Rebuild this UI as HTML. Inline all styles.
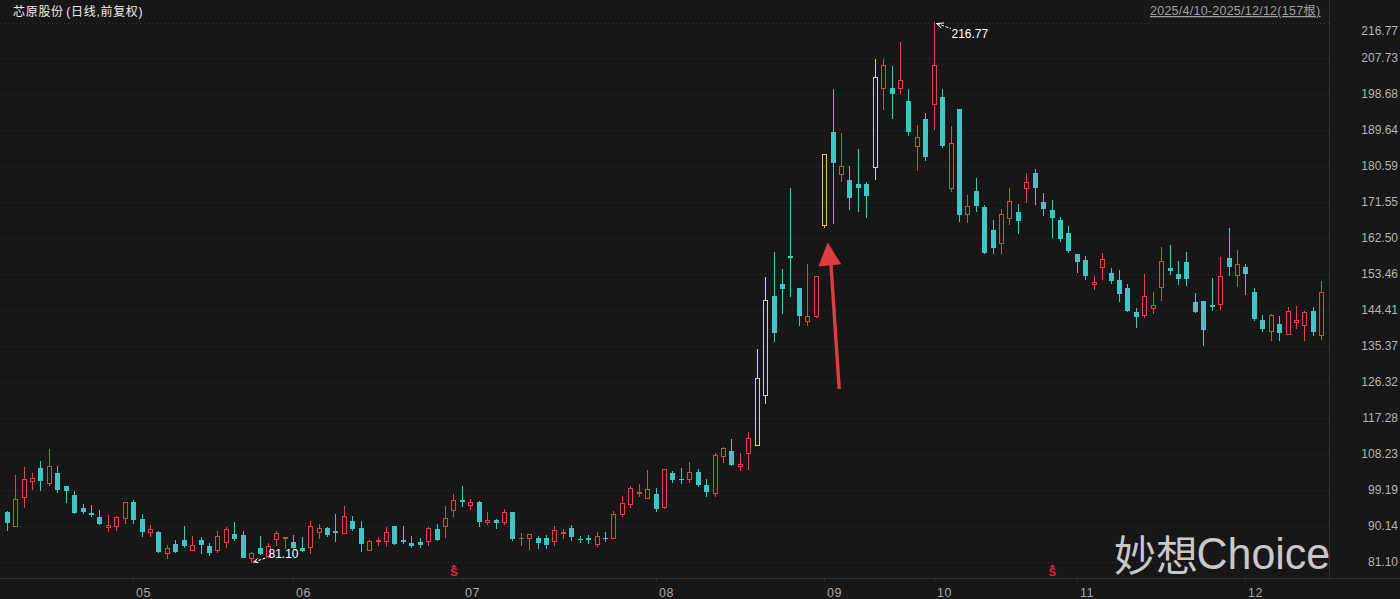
<!DOCTYPE html>
<html lang="zh-CN"><head><meta charset="utf-8"><title>芯原股份 日线</title>
<style>
html,body{margin:0;padding:0;background:#171717;width:1400px;height:599px;overflow:hidden}
svg{display:block}
.t{font-family:"Liberation Sans","Noto Sans CJK SC",sans-serif}
</style></head><body>
<svg width="1400" height="599" viewBox="0 0 1400 599">
<rect x="0" y="0" width="1400" height="599" fill="#171717"/>
<g stroke="#343434" stroke-width="1" stroke-dasharray="1 3" shape-rendering="crispEdges">
<line x1="0" y1="23.5" x2="1332" y2="23.5"/>
<line x1="0" y1="58.5" x2="1332" y2="58.5"/>
<line x1="0" y1="94.5" x2="1332" y2="94.5"/>
<line x1="0" y1="130.5" x2="1332" y2="130.5"/>
<line x1="0" y1="166.5" x2="1332" y2="166.5"/>
<line x1="0" y1="202.5" x2="1332" y2="202.5"/>
<line x1="0" y1="238.5" x2="1332" y2="238.5"/>
<line x1="0" y1="274.5" x2="1332" y2="274.5"/>
<line x1="0" y1="310.5" x2="1332" y2="310.5"/>
<line x1="0" y1="346.5" x2="1332" y2="346.5"/>
<line x1="0" y1="382.5" x2="1332" y2="382.5"/>
<line x1="0" y1="418.5" x2="1332" y2="418.5"/>
<line x1="0" y1="454.5" x2="1332" y2="454.5"/>
<line x1="0" y1="490.5" x2="1332" y2="490.5"/>
<line x1="0" y1="526.5" x2="1332" y2="526.5"/>
<line x1="0" y1="562.5" x2="1332" y2="562.5"/>
</g>
<g shape-rendering="crispEdges">
<line x1="1329.5" y1="0" x2="1329.5" y2="578" stroke="#2e2e2e" stroke-width="1"/>
<line x1="0" y1="578.5" x2="1400" y2="578.5" stroke="#2e2e2e" stroke-width="1"/>
</g>
<g shape-rendering="crispEdges">
<rect x="7" y="511" width="1" height="1" fill="#40c4c4"/>
<rect x="7" y="523" width="1" height="8" fill="#40c4c4"/>
<rect x="5" y="512" width="5" height="11" fill="#40c4c4"/>
<rect x="15" y="475" width="1" height="24" fill="#e8404a"/>
<rect x="13.5" y="499.5" width="4" height="27" fill="none" stroke="#e8404a" stroke-width="1"/>
<rect x="24" y="467" width="1" height="12" fill="#e8404a"/>
<rect x="24" y="498" width="1" height="10" fill="#e8404a"/>
<rect x="22.5" y="479.5" width="4" height="18" fill="none" stroke="#e8404a" stroke-width="1"/>
<rect x="32" y="473" width="1" height="5" fill="#e8404a"/>
<rect x="32" y="482" width="1" height="8" fill="#e8404a"/>
<rect x="30.5" y="478.5" width="4" height="3" fill="none" stroke="#e8404a" stroke-width="1"/>
<rect x="40" y="461" width="1" height="7" fill="#40c4c4"/>
<rect x="40" y="481" width="1" height="10" fill="#40c4c4"/>
<rect x="38" y="468" width="5" height="13" fill="#40c4c4"/>
<rect x="49" y="449" width="1" height="17" fill="#e8404a"/>
<rect x="49" y="484" width="1" height="2" fill="#e8404a"/>
<rect x="47.5" y="466.5" width="4" height="17" fill="none" stroke="#e8404a" stroke-width="1"/>
<rect x="57" y="466" width="1" height="7" fill="#40c4c4"/>
<rect x="57" y="490" width="1" height="3" fill="#40c4c4"/>
<rect x="55" y="473" width="5" height="17" fill="#40c4c4"/>
<rect x="66" y="491" width="1" height="12" fill="#40c4c4"/>
<rect x="64" y="486" width="5" height="5" fill="#40c4c4"/>
<rect x="74" y="491" width="1" height="4" fill="#40c4c4"/>
<rect x="74" y="513" width="1" height="1" fill="#40c4c4"/>
<rect x="72" y="495" width="5" height="18" fill="#40c4c4"/>
<rect x="83" y="504" width="1" height="4" fill="#40c4c4"/>
<rect x="83" y="512" width="1" height="2" fill="#40c4c4"/>
<rect x="81" y="508" width="5" height="4" fill="#40c4c4"/>
<rect x="91" y="505" width="1" height="8" fill="#40c4c4"/>
<rect x="91" y="515" width="1" height="2" fill="#40c4c4"/>
<rect x="89" y="513" width="5" height="2" fill="#40c4c4"/>
<rect x="99" y="510" width="1" height="7" fill="#40c4c4"/>
<rect x="99" y="524" width="1" height="1" fill="#40c4c4"/>
<rect x="97" y="517" width="5" height="7" fill="#40c4c4"/>
<rect x="108" y="515" width="1" height="10" fill="#e8404a"/>
<rect x="108" y="528" width="1" height="4" fill="#e8404a"/>
<rect x="106.5" y="525.5" width="4" height="2" fill="none" stroke="#e8404a" stroke-width="1"/>
<rect x="116" y="516" width="1" height="1" fill="#e8404a"/>
<rect x="116" y="527" width="1" height="4" fill="#e8404a"/>
<rect x="114.5" y="517.5" width="4" height="9" fill="none" stroke="#e8404a" stroke-width="1"/>
<rect x="125" y="519" width="1" height="5" fill="#e8404a"/>
<rect x="123.5" y="502.5" width="4" height="16" fill="none" stroke="#e8404a" stroke-width="1"/>
<rect x="133" y="500" width="1" height="2" fill="#40c4c4"/>
<rect x="133" y="520" width="1" height="4" fill="#40c4c4"/>
<rect x="131" y="502" width="5" height="18" fill="#40c4c4"/>
<rect x="142" y="514" width="1" height="5" fill="#40c4c4"/>
<rect x="142" y="532" width="1" height="5" fill="#40c4c4"/>
<rect x="140" y="519" width="5" height="13" fill="#40c4c4"/>
<rect x="150" y="525" width="1" height="4" fill="#e8404a"/>
<rect x="150" y="533" width="1" height="4" fill="#e8404a"/>
<rect x="148.5" y="529.5" width="4" height="3" fill="none" stroke="#e8404a" stroke-width="1"/>
<rect x="158" y="531" width="1" height="1" fill="#40c4c4"/>
<rect x="158" y="552" width="1" height="1" fill="#40c4c4"/>
<rect x="156" y="532" width="5" height="20" fill="#40c4c4"/>
<rect x="167" y="545" width="1" height="3" fill="#e8404a"/>
<rect x="167" y="554" width="1" height="5" fill="#e8404a"/>
<rect x="165.5" y="548.5" width="4" height="5" fill="none" stroke="#e8404a" stroke-width="1"/>
<rect x="175" y="540" width="1" height="4" fill="#40c4c4"/>
<rect x="175" y="552" width="1" height="1" fill="#40c4c4"/>
<rect x="173" y="544" width="5" height="8" fill="#40c4c4"/>
<rect x="184" y="526" width="1" height="14" fill="#40c4c4"/>
<rect x="184" y="546" width="1" height="2" fill="#40c4c4"/>
<rect x="182" y="540" width="5" height="6" fill="#40c4c4"/>
<rect x="192" y="536" width="1" height="9" fill="#e8404a"/>
<rect x="190.5" y="545.5" width="4" height="5" fill="none" stroke="#e8404a" stroke-width="1"/>
<rect x="201" y="537" width="1" height="3" fill="#40c4c4"/>
<rect x="201" y="545" width="1" height="9" fill="#40c4c4"/>
<rect x="199" y="540" width="5" height="5" fill="#40c4c4"/>
<rect x="209" y="543" width="1" height="3" fill="#40c4c4"/>
<rect x="209" y="553" width="1" height="3" fill="#40c4c4"/>
<rect x="207" y="546" width="5" height="7" fill="#40c4c4"/>
<rect x="217" y="531" width="1" height="5" fill="#e8404a"/>
<rect x="217" y="551" width="1" height="2" fill="#e8404a"/>
<rect x="215.5" y="536.5" width="4" height="14" fill="none" stroke="#e8404a" stroke-width="1"/>
<rect x="226" y="527" width="1" height="2" fill="#e8404a"/>
<rect x="226" y="543" width="1" height="5" fill="#e8404a"/>
<rect x="224.5" y="529.5" width="4" height="13" fill="none" stroke="#e8404a" stroke-width="1"/>
<rect x="234" y="522" width="1" height="12" fill="#40c4c4"/>
<rect x="234" y="539" width="1" height="2" fill="#40c4c4"/>
<rect x="232" y="534" width="5" height="5" fill="#40c4c4"/>
<rect x="243" y="531" width="1" height="4" fill="#40c4c4"/>
<rect x="241" y="535" width="5" height="23" fill="#40c4c4"/>
<rect x="251" y="552" width="1" height="1" fill="#e8404a"/>
<rect x="251" y="559" width="1" height="4" fill="#e8404a"/>
<rect x="249.5" y="553.5" width="4" height="5" fill="none" stroke="#e8404a" stroke-width="1"/>
<rect x="260" y="536" width="1" height="12" fill="#40c4c4"/>
<rect x="260" y="554" width="1" height="1" fill="#40c4c4"/>
<rect x="258" y="548" width="5" height="6" fill="#40c4c4"/>
<rect x="268" y="543" width="1" height="3" fill="#e8404a"/>
<rect x="268" y="557" width="1" height="1" fill="#e8404a"/>
<rect x="266.5" y="546.5" width="4" height="10" fill="none" stroke="#e8404a" stroke-width="1"/>
<rect x="276" y="531" width="1" height="2" fill="#e8404a"/>
<rect x="276" y="540" width="1" height="6" fill="#e8404a"/>
<rect x="274.5" y="533.5" width="4" height="6" fill="none" stroke="#e8404a" stroke-width="1"/>
<rect x="285" y="539" width="1" height="10" fill="#e8404a"/>
<rect x="283" y="537" width="5" height="2" fill="#e8404a"/>
<rect x="293" y="535" width="1" height="7" fill="#40c4c4"/>
<rect x="293" y="548" width="1" height="1" fill="#40c4c4"/>
<rect x="291" y="542" width="5" height="6" fill="#40c4c4"/>
<rect x="302" y="537" width="1" height="11" fill="#40c4c4"/>
<rect x="302" y="551" width="1" height="1" fill="#40c4c4"/>
<rect x="300" y="548" width="5" height="3" fill="#40c4c4"/>
<rect x="310" y="521" width="1" height="5" fill="#e8404a"/>
<rect x="310" y="548" width="1" height="6" fill="#e8404a"/>
<rect x="308.5" y="526.5" width="4" height="21" fill="none" stroke="#e8404a" stroke-width="1"/>
<rect x="319" y="524" width="1" height="4" fill="#e8404a"/>
<rect x="319" y="533" width="1" height="6" fill="#e8404a"/>
<rect x="317.5" y="528.5" width="4" height="4" fill="none" stroke="#e8404a" stroke-width="1"/>
<rect x="327" y="527" width="1" height="1" fill="#40c4c4"/>
<rect x="327" y="535" width="1" height="2" fill="#40c4c4"/>
<rect x="325" y="528" width="5" height="7" fill="#40c4c4"/>
<rect x="335" y="514" width="1" height="17" fill="#40c4c4"/>
<rect x="335" y="533" width="1" height="9" fill="#40c4c4"/>
<rect x="333" y="531" width="5" height="2" fill="#40c4c4"/>
<rect x="344" y="506" width="1" height="10" fill="#e8404a"/>
<rect x="342.5" y="516.5" width="4" height="17" fill="none" stroke="#e8404a" stroke-width="1"/>
<rect x="352" y="516" width="1" height="5" fill="#40c4c4"/>
<rect x="352" y="529" width="1" height="2" fill="#40c4c4"/>
<rect x="350" y="521" width="5" height="8" fill="#40c4c4"/>
<rect x="361" y="521" width="1" height="7" fill="#40c4c4"/>
<rect x="361" y="544" width="1" height="8" fill="#40c4c4"/>
<rect x="359" y="528" width="5" height="16" fill="#40c4c4"/>
<rect x="369" y="540" width="1" height="1" fill="#e8404a"/>
<rect x="367.5" y="541.5" width="4" height="9" fill="none" stroke="#e8404a" stroke-width="1"/>
<rect x="378" y="537" width="1" height="3" fill="#e8404a"/>
<rect x="378" y="542" width="1" height="4" fill="#e8404a"/>
<rect x="376" y="540" width="5" height="2" fill="#e8404a"/>
<rect x="386" y="527" width="1" height="5" fill="#e8404a"/>
<rect x="386" y="542" width="1" height="5" fill="#e8404a"/>
<rect x="384.5" y="532.5" width="4" height="9" fill="none" stroke="#e8404a" stroke-width="1"/>
<rect x="394" y="544" width="1" height="1" fill="#40c4c4"/>
<rect x="392" y="526" width="5" height="18" fill="#40c4c4"/>
<rect x="403" y="526" width="1" height="14" fill="#40c4c4"/>
<rect x="403" y="542" width="1" height="2" fill="#40c4c4"/>
<rect x="401" y="540" width="5" height="2" fill="#40c4c4"/>
<rect x="411" y="536" width="1" height="7" fill="#40c4c4"/>
<rect x="411" y="546" width="1" height="2" fill="#40c4c4"/>
<rect x="409" y="543" width="5" height="3" fill="#40c4c4"/>
<rect x="420" y="538" width="1" height="4" fill="#40c4c4"/>
<rect x="420" y="545" width="1" height="3" fill="#40c4c4"/>
<rect x="418" y="542" width="5" height="3" fill="#40c4c4"/>
<rect x="428" y="527" width="1" height="1" fill="#e8404a"/>
<rect x="428" y="542" width="1" height="4" fill="#e8404a"/>
<rect x="426.5" y="528.5" width="4" height="13" fill="none" stroke="#e8404a" stroke-width="1"/>
<rect x="437" y="524" width="1" height="5" fill="#40c4c4"/>
<rect x="437" y="540" width="1" height="1" fill="#40c4c4"/>
<rect x="435" y="529" width="5" height="11" fill="#40c4c4"/>
<rect x="445" y="506" width="1" height="12" fill="#e8404a"/>
<rect x="445" y="527" width="1" height="11" fill="#e8404a"/>
<rect x="443.5" y="518.5" width="4" height="8" fill="none" stroke="#e8404a" stroke-width="1"/>
<rect x="453" y="494" width="1" height="6" fill="#e8404a"/>
<rect x="453" y="511" width="1" height="6" fill="#e8404a"/>
<rect x="451.5" y="500.5" width="4" height="10" fill="none" stroke="#e8404a" stroke-width="1"/>
<rect x="462" y="486" width="1" height="14" fill="#40c4c4"/>
<rect x="462" y="502" width="1" height="5" fill="#40c4c4"/>
<rect x="460" y="500" width="5" height="2" fill="#40c4c4"/>
<rect x="470" y="499" width="1" height="3" fill="#e8404a"/>
<rect x="470" y="506" width="1" height="4" fill="#e8404a"/>
<rect x="468.5" y="502.5" width="4" height="3" fill="none" stroke="#e8404a" stroke-width="1"/>
<rect x="479" y="501" width="1" height="1" fill="#40c4c4"/>
<rect x="479" y="522" width="1" height="5" fill="#40c4c4"/>
<rect x="477" y="502" width="5" height="20" fill="#40c4c4"/>
<rect x="487" y="512" width="1" height="8" fill="#e8404a"/>
<rect x="487" y="523" width="1" height="2" fill="#e8404a"/>
<rect x="485.5" y="520.5" width="4" height="2" fill="none" stroke="#e8404a" stroke-width="1"/>
<rect x="496" y="519" width="1" height="1" fill="#40c4c4"/>
<rect x="496" y="523" width="1" height="6" fill="#40c4c4"/>
<rect x="494" y="520" width="5" height="3" fill="#40c4c4"/>
<rect x="504" y="509" width="1" height="3" fill="#e8404a"/>
<rect x="504" y="523" width="1" height="2" fill="#e8404a"/>
<rect x="502.5" y="512.5" width="4" height="10" fill="none" stroke="#e8404a" stroke-width="1"/>
<rect x="512" y="539" width="1" height="2" fill="#40c4c4"/>
<rect x="510" y="512" width="5" height="27" fill="#40c4c4"/>
<rect x="521" y="533" width="1" height="5" fill="#e8404a"/>
<rect x="521" y="539" width="1" height="7" fill="#e8404a"/>
<rect x="519" y="538" width="5" height="1" fill="#e8404a"/>
<rect x="529" y="539" width="1" height="11" fill="#e8404a"/>
<rect x="527.5" y="534.5" width="4" height="4" fill="none" stroke="#e8404a" stroke-width="1"/>
<rect x="538" y="536" width="1" height="2" fill="#40c4c4"/>
<rect x="538" y="543" width="1" height="6" fill="#40c4c4"/>
<rect x="536" y="538" width="5" height="5" fill="#40c4c4"/>
<rect x="546" y="535" width="1" height="3" fill="#40c4c4"/>
<rect x="546" y="545" width="1" height="4" fill="#40c4c4"/>
<rect x="544" y="538" width="5" height="7" fill="#40c4c4"/>
<rect x="554" y="526" width="1" height="4" fill="#e8404a"/>
<rect x="554" y="542" width="1" height="4" fill="#e8404a"/>
<rect x="552.5" y="530.5" width="4" height="11" fill="none" stroke="#e8404a" stroke-width="1"/>
<rect x="563" y="529" width="1" height="3" fill="#e8404a"/>
<rect x="563" y="534" width="1" height="5" fill="#e8404a"/>
<rect x="561" y="532" width="5" height="2" fill="#e8404a"/>
<rect x="571" y="525" width="1" height="3" fill="#40c4c4"/>
<rect x="571" y="537" width="1" height="4" fill="#40c4c4"/>
<rect x="569" y="528" width="5" height="9" fill="#40c4c4"/>
<rect x="580" y="536" width="1" height="3" fill="#40c4c4"/>
<rect x="580" y="540" width="1" height="3" fill="#40c4c4"/>
<rect x="578" y="539" width="5" height="1" fill="#40c4c4"/>
<rect x="588" y="535" width="1" height="3" fill="#40c4c4"/>
<rect x="588" y="540" width="1" height="4" fill="#40c4c4"/>
<rect x="586" y="538" width="5" height="2" fill="#40c4c4"/>
<rect x="597" y="532" width="1" height="4" fill="#e8404a"/>
<rect x="597" y="545" width="1" height="2" fill="#e8404a"/>
<rect x="595.5" y="536.5" width="4" height="8" fill="none" stroke="#e8404a" stroke-width="1"/>
<rect x="605" y="532" width="1" height="6" fill="#40c4c4"/>
<rect x="605" y="539" width="1" height="3" fill="#40c4c4"/>
<rect x="603" y="538" width="5" height="1" fill="#40c4c4"/>
<rect x="613" y="511" width="1" height="3" fill="#e8404a"/>
<rect x="611.5" y="514.5" width="4" height="24" fill="none" stroke="#e8404a" stroke-width="1"/>
<rect x="622" y="496" width="1" height="7" fill="#e8404a"/>
<rect x="622" y="515" width="1" height="2" fill="#e8404a"/>
<rect x="620.5" y="503.5" width="4" height="11" fill="none" stroke="#e8404a" stroke-width="1"/>
<rect x="630" y="486" width="1" height="2" fill="#e8404a"/>
<rect x="630" y="505" width="1" height="3" fill="#e8404a"/>
<rect x="628.5" y="488.5" width="4" height="16" fill="none" stroke="#e8404a" stroke-width="1"/>
<rect x="639" y="484" width="1" height="8" fill="#e8404a"/>
<rect x="639" y="494" width="1" height="3" fill="#e8404a"/>
<rect x="637" y="492" width="5" height="2" fill="#e8404a"/>
<rect x="647" y="470" width="1" height="19" fill="#e8404a"/>
<rect x="645.5" y="489.5" width="4" height="9" fill="none" stroke="#e8404a" stroke-width="1"/>
<rect x="656" y="488" width="1" height="6" fill="#40c4c4"/>
<rect x="656" y="509" width="1" height="3" fill="#40c4c4"/>
<rect x="654" y="494" width="5" height="15" fill="#40c4c4"/>
<rect x="664" y="508" width="1" height="1" fill="#e8404a"/>
<rect x="662.5" y="469.5" width="4" height="38" fill="none" stroke="#e8404a" stroke-width="1"/>
<rect x="672" y="471" width="1" height="2" fill="#40c4c4"/>
<rect x="672" y="480" width="1" height="3" fill="#40c4c4"/>
<rect x="670" y="473" width="5" height="7" fill="#40c4c4"/>
<rect x="681" y="468" width="1" height="11" fill="#40c4c4"/>
<rect x="681" y="480" width="1" height="4" fill="#40c4c4"/>
<rect x="679" y="479" width="5" height="1" fill="#40c4c4"/>
<rect x="689" y="462" width="1" height="10" fill="#e8404a"/>
<rect x="689" y="480" width="1" height="3" fill="#e8404a"/>
<rect x="687.5" y="472.5" width="4" height="7" fill="none" stroke="#e8404a" stroke-width="1"/>
<rect x="698" y="469" width="1" height="3" fill="#40c4c4"/>
<rect x="698" y="485" width="1" height="2" fill="#40c4c4"/>
<rect x="696" y="472" width="5" height="13" fill="#40c4c4"/>
<rect x="706" y="479" width="1" height="6" fill="#40c4c4"/>
<rect x="706" y="492" width="1" height="5" fill="#40c4c4"/>
<rect x="704" y="485" width="5" height="7" fill="#40c4c4"/>
<rect x="715" y="453" width="1" height="2" fill="#e8404a"/>
<rect x="715" y="494" width="1" height="3" fill="#e8404a"/>
<rect x="713.5" y="455.5" width="4" height="38" fill="none" stroke="#e8404a" stroke-width="1"/>
<rect x="723" y="447" width="1" height="1" fill="#e8404a"/>
<rect x="723" y="457" width="1" height="6" fill="#e8404a"/>
<rect x="721.5" y="448.5" width="4" height="8" fill="none" stroke="#e8404a" stroke-width="1"/>
<rect x="731" y="439" width="1" height="12" fill="#40c4c4"/>
<rect x="731" y="465" width="1" height="1" fill="#40c4c4"/>
<rect x="729" y="451" width="5" height="14" fill="#40c4c4"/>
<rect x="740" y="453" width="1" height="11" fill="#e8404a"/>
<rect x="740" y="467" width="1" height="4" fill="#e8404a"/>
<rect x="738.5" y="464.5" width="4" height="2" fill="none" stroke="#e8404a" stroke-width="1"/>
<rect x="748" y="432" width="1" height="6" fill="#e8404a"/>
<rect x="748" y="454" width="1" height="16" fill="#e8404a"/>
<rect x="746.5" y="438.5" width="4" height="15" fill="none" stroke="#e8404a" stroke-width="1"/>
<rect x="757" y="349" width="1" height="29" fill="#c6de80"/>
<rect x="755.5" y="378.5" width="4" height="67" fill="none" stroke="#c6de80" stroke-width="1"/>
<rect x="765" y="277" width="1" height="23" fill="#c6de80"/>
<rect x="765" y="396" width="1" height="8" fill="#c6de80"/>
<rect x="763.5" y="300.5" width="4" height="95" fill="none" stroke="#c6de80" stroke-width="1"/>
<rect x="774" y="252" width="1" height="44" fill="#40c4c4"/>
<rect x="774" y="333" width="1" height="9" fill="#40c4c4"/>
<rect x="772" y="296" width="5" height="37" fill="#40c4c4"/>
<rect x="782" y="269" width="1" height="15" fill="#40c4c4"/>
<rect x="782" y="289" width="1" height="25" fill="#40c4c4"/>
<rect x="780" y="284" width="5" height="5" fill="#40c4c4"/>
<rect x="790" y="188" width="1" height="68" fill="#40c4c4"/>
<rect x="790" y="258" width="1" height="39" fill="#40c4c4"/>
<rect x="788" y="256" width="5" height="2" fill="#40c4c4"/>
<rect x="799" y="316" width="1" height="10" fill="#40c4c4"/>
<rect x="797" y="288" width="5" height="28" fill="#40c4c4"/>
<rect x="807" y="264" width="1" height="52" fill="#e8404a"/>
<rect x="807" y="322" width="1" height="4" fill="#e8404a"/>
<rect x="805.5" y="316.5" width="4" height="5" fill="none" stroke="#e8404a" stroke-width="1"/>
<rect x="816" y="317" width="1" height="1" fill="#e8404a"/>
<rect x="814.5" y="276.5" width="4" height="40" fill="none" stroke="#e8404a" stroke-width="1"/>
<rect x="824" y="226" width="1" height="2" fill="#ebbf6c"/>
<rect x="822.5" y="154.5" width="4" height="71" fill="none" stroke="#ebbf6c" stroke-width="1"/>
<rect x="833" y="89" width="1" height="43" fill="#40c4c4"/>
<rect x="833" y="163" width="1" height="61" fill="#40c4c4"/>
<rect x="831" y="132" width="5" height="31" fill="#40c4c4"/>
<rect x="841" y="133" width="1" height="33" fill="#e8404a"/>
<rect x="841" y="175" width="1" height="7" fill="#e8404a"/>
<rect x="839.5" y="166.5" width="4" height="8" fill="none" stroke="#e8404a" stroke-width="1"/>
<rect x="849" y="166" width="1" height="14" fill="#40c4c4"/>
<rect x="849" y="198" width="1" height="12" fill="#40c4c4"/>
<rect x="847" y="180" width="5" height="18" fill="#40c4c4"/>
<rect x="858" y="149" width="1" height="35" fill="#40c4c4"/>
<rect x="858" y="188" width="1" height="24" fill="#40c4c4"/>
<rect x="856" y="184" width="5" height="4" fill="#40c4c4"/>
<rect x="866" y="182" width="1" height="2" fill="#40c4c4"/>
<rect x="866" y="196" width="1" height="22" fill="#40c4c4"/>
<rect x="864" y="184" width="5" height="12" fill="#40c4c4"/>
<rect x="875" y="59" width="1" height="18" fill="#c6de80"/>
<rect x="875" y="168" width="1" height="12" fill="#c6de80"/>
<rect x="873.5" y="77.5" width="4" height="90" fill="none" stroke="#c6de80" stroke-width="1"/>
<rect x="883" y="59" width="1" height="6" fill="#e8404a"/>
<rect x="883" y="89" width="1" height="21" fill="#e8404a"/>
<rect x="881.5" y="65.5" width="4" height="23" fill="none" stroke="#e8404a" stroke-width="1"/>
<rect x="892" y="66" width="1" height="22" fill="#40c4c4"/>
<rect x="892" y="94" width="1" height="25" fill="#40c4c4"/>
<rect x="890" y="88" width="5" height="6" fill="#40c4c4"/>
<rect x="900" y="42" width="1" height="38" fill="#e8404a"/>
<rect x="900" y="89" width="1" height="5" fill="#e8404a"/>
<rect x="898.5" y="80.5" width="4" height="8" fill="none" stroke="#e8404a" stroke-width="1"/>
<rect x="908" y="89" width="1" height="12" fill="#40c4c4"/>
<rect x="908" y="132" width="1" height="4" fill="#40c4c4"/>
<rect x="906" y="101" width="5" height="31" fill="#40c4c4"/>
<rect x="917" y="125" width="1" height="12" fill="#e8404a"/>
<rect x="917" y="147" width="1" height="24" fill="#e8404a"/>
<rect x="915.5" y="137.5" width="4" height="9" fill="none" stroke="#e8404a" stroke-width="1"/>
<rect x="925" y="113" width="1" height="6" fill="#40c4c4"/>
<rect x="925" y="157" width="1" height="4" fill="#40c4c4"/>
<rect x="923" y="119" width="5" height="38" fill="#40c4c4"/>
<rect x="934" y="22" width="1" height="43" fill="#e8404a"/>
<rect x="934" y="105" width="1" height="25" fill="#e8404a"/>
<rect x="932.5" y="65.5" width="4" height="39" fill="none" stroke="#e8404a" stroke-width="1"/>
<rect x="942" y="89" width="1" height="8" fill="#40c4c4"/>
<rect x="942" y="146" width="1" height="2" fill="#40c4c4"/>
<rect x="940" y="97" width="5" height="49" fill="#40c4c4"/>
<rect x="951" y="126" width="1" height="17" fill="#e8404a"/>
<rect x="951" y="189" width="1" height="3" fill="#e8404a"/>
<rect x="949.5" y="143.5" width="4" height="45" fill="none" stroke="#e8404a" stroke-width="1"/>
<rect x="959" y="215" width="1" height="7" fill="#40c4c4"/>
<rect x="957" y="109" width="5" height="106" fill="#40c4c4"/>
<rect x="967" y="195" width="1" height="11" fill="#e8404a"/>
<rect x="967" y="215" width="1" height="8" fill="#e8404a"/>
<rect x="965.5" y="206.5" width="4" height="8" fill="none" stroke="#e8404a" stroke-width="1"/>
<rect x="976" y="178" width="1" height="13" fill="#40c4c4"/>
<rect x="976" y="206" width="1" height="6" fill="#40c4c4"/>
<rect x="974" y="191" width="5" height="15" fill="#40c4c4"/>
<rect x="984" y="205" width="1" height="2" fill="#40c4c4"/>
<rect x="984" y="253" width="1" height="1" fill="#40c4c4"/>
<rect x="982" y="207" width="5" height="46" fill="#40c4c4"/>
<rect x="993" y="220" width="1" height="10" fill="#40c4c4"/>
<rect x="993" y="248" width="1" height="6" fill="#40c4c4"/>
<rect x="991" y="230" width="5" height="18" fill="#40c4c4"/>
<rect x="1001" y="209" width="1" height="5" fill="#e8404a"/>
<rect x="1001" y="244" width="1" height="10" fill="#e8404a"/>
<rect x="999.5" y="214.5" width="4" height="29" fill="none" stroke="#e8404a" stroke-width="1"/>
<rect x="1009" y="188" width="1" height="13" fill="#e8404a"/>
<rect x="1009" y="219" width="1" height="6" fill="#e8404a"/>
<rect x="1007.5" y="201.5" width="4" height="17" fill="none" stroke="#e8404a" stroke-width="1"/>
<rect x="1018" y="204" width="1" height="8" fill="#40c4c4"/>
<rect x="1018" y="221" width="1" height="13" fill="#40c4c4"/>
<rect x="1016" y="212" width="5" height="9" fill="#40c4c4"/>
<rect x="1026" y="173" width="1" height="9" fill="#e8404a"/>
<rect x="1026" y="189" width="1" height="14" fill="#e8404a"/>
<rect x="1024.5" y="182.5" width="4" height="6" fill="none" stroke="#e8404a" stroke-width="1"/>
<rect x="1035" y="169" width="1" height="4" fill="#40c4c4"/>
<rect x="1035" y="188" width="1" height="17" fill="#40c4c4"/>
<rect x="1033" y="173" width="5" height="15" fill="#40c4c4"/>
<rect x="1043" y="193" width="1" height="9" fill="#40c4c4"/>
<rect x="1043" y="209" width="1" height="7" fill="#40c4c4"/>
<rect x="1041" y="202" width="5" height="7" fill="#40c4c4"/>
<rect x="1052" y="200" width="1" height="10" fill="#40c4c4"/>
<rect x="1052" y="218" width="1" height="20" fill="#40c4c4"/>
<rect x="1050" y="210" width="5" height="8" fill="#40c4c4"/>
<rect x="1060" y="217" width="1" height="3" fill="#40c4c4"/>
<rect x="1060" y="239" width="1" height="3" fill="#40c4c4"/>
<rect x="1058" y="220" width="5" height="19" fill="#40c4c4"/>
<rect x="1068" y="226" width="1" height="7" fill="#40c4c4"/>
<rect x="1068" y="251" width="1" height="2" fill="#40c4c4"/>
<rect x="1066" y="233" width="5" height="18" fill="#40c4c4"/>
<rect x="1077" y="262" width="1" height="11" fill="#40c4c4"/>
<rect x="1075" y="254" width="5" height="8" fill="#40c4c4"/>
<rect x="1085" y="256" width="1" height="4" fill="#40c4c4"/>
<rect x="1085" y="276" width="1" height="4" fill="#40c4c4"/>
<rect x="1083" y="260" width="5" height="16" fill="#40c4c4"/>
<rect x="1094" y="276" width="1" height="6" fill="#e8404a"/>
<rect x="1094" y="285" width="1" height="5" fill="#e8404a"/>
<rect x="1092.5" y="282.5" width="4" height="2" fill="none" stroke="#e8404a" stroke-width="1"/>
<rect x="1102" y="253" width="1" height="6" fill="#e8404a"/>
<rect x="1102" y="268" width="1" height="12" fill="#e8404a"/>
<rect x="1100.5" y="259.5" width="4" height="8" fill="none" stroke="#e8404a" stroke-width="1"/>
<rect x="1111" y="268" width="1" height="5" fill="#40c4c4"/>
<rect x="1111" y="281" width="1" height="3" fill="#40c4c4"/>
<rect x="1109" y="273" width="5" height="8" fill="#40c4c4"/>
<rect x="1119" y="270" width="1" height="10" fill="#40c4c4"/>
<rect x="1119" y="294" width="1" height="8" fill="#40c4c4"/>
<rect x="1117" y="280" width="5" height="14" fill="#40c4c4"/>
<rect x="1127" y="284" width="1" height="4" fill="#40c4c4"/>
<rect x="1127" y="311" width="1" height="1" fill="#40c4c4"/>
<rect x="1125" y="288" width="5" height="23" fill="#40c4c4"/>
<rect x="1136" y="308" width="1" height="4" fill="#40c4c4"/>
<rect x="1136" y="317" width="1" height="11" fill="#40c4c4"/>
<rect x="1134" y="312" width="5" height="5" fill="#40c4c4"/>
<rect x="1144" y="274" width="1" height="22" fill="#e8404a"/>
<rect x="1144" y="316" width="1" height="2" fill="#e8404a"/>
<rect x="1142.5" y="296.5" width="4" height="19" fill="none" stroke="#e8404a" stroke-width="1"/>
<rect x="1153" y="292" width="1" height="13" fill="#e8404a"/>
<rect x="1153" y="309" width="1" height="5" fill="#e8404a"/>
<rect x="1151.5" y="305.5" width="4" height="3" fill="none" stroke="#e8404a" stroke-width="1"/>
<rect x="1161" y="247" width="1" height="14" fill="#e8404a"/>
<rect x="1161" y="288" width="1" height="13" fill="#e8404a"/>
<rect x="1159.5" y="261.5" width="4" height="26" fill="none" stroke="#e8404a" stroke-width="1"/>
<rect x="1170" y="245" width="1" height="23" fill="#40c4c4"/>
<rect x="1170" y="271" width="1" height="4" fill="#40c4c4"/>
<rect x="1168" y="268" width="5" height="3" fill="#40c4c4"/>
<rect x="1178" y="261" width="1" height="13" fill="#40c4c4"/>
<rect x="1178" y="279" width="1" height="6" fill="#40c4c4"/>
<rect x="1176" y="274" width="5" height="5" fill="#40c4c4"/>
<rect x="1186" y="252" width="1" height="10" fill="#40c4c4"/>
<rect x="1186" y="279" width="1" height="7" fill="#40c4c4"/>
<rect x="1184" y="262" width="5" height="17" fill="#40c4c4"/>
<rect x="1195" y="293" width="1" height="9" fill="#40c4c4"/>
<rect x="1195" y="312" width="1" height="1" fill="#40c4c4"/>
<rect x="1193" y="302" width="5" height="10" fill="#40c4c4"/>
<rect x="1203" y="330" width="1" height="16" fill="#40c4c4"/>
<rect x="1201" y="301" width="5" height="29" fill="#40c4c4"/>
<rect x="1212" y="278" width="1" height="27" fill="#40c4c4"/>
<rect x="1212" y="307" width="1" height="4" fill="#40c4c4"/>
<rect x="1210" y="305" width="5" height="2" fill="#40c4c4"/>
<rect x="1220" y="257" width="1" height="19" fill="#e8404a"/>
<rect x="1220" y="305" width="1" height="5" fill="#e8404a"/>
<rect x="1218.5" y="276.5" width="4" height="28" fill="none" stroke="#e8404a" stroke-width="1"/>
<rect x="1229" y="228" width="1" height="30" fill="#40c4c4"/>
<rect x="1229" y="267" width="1" height="9" fill="#40c4c4"/>
<rect x="1227" y="258" width="5" height="9" fill="#40c4c4"/>
<rect x="1237" y="250" width="1" height="14" fill="#e8404a"/>
<rect x="1237" y="276" width="1" height="11" fill="#e8404a"/>
<rect x="1235.5" y="264.5" width="4" height="11" fill="none" stroke="#e8404a" stroke-width="1"/>
<rect x="1245" y="264" width="1" height="3" fill="#40c4c4"/>
<rect x="1245" y="274" width="1" height="21" fill="#40c4c4"/>
<rect x="1243" y="267" width="5" height="7" fill="#40c4c4"/>
<rect x="1254" y="288" width="1" height="4" fill="#40c4c4"/>
<rect x="1254" y="319" width="1" height="2" fill="#40c4c4"/>
<rect x="1252" y="292" width="5" height="27" fill="#40c4c4"/>
<rect x="1262" y="315" width="1" height="5" fill="#40c4c4"/>
<rect x="1262" y="329" width="1" height="3" fill="#40c4c4"/>
<rect x="1260" y="320" width="5" height="9" fill="#40c4c4"/>
<rect x="1271" y="314" width="1" height="1" fill="#e8404a"/>
<rect x="1271" y="332" width="1" height="9" fill="#e8404a"/>
<rect x="1269.5" y="315.5" width="4" height="16" fill="none" stroke="#e8404a" stroke-width="1"/>
<rect x="1279" y="316" width="1" height="8" fill="#40c4c4"/>
<rect x="1279" y="333" width="1" height="8" fill="#40c4c4"/>
<rect x="1277" y="324" width="5" height="9" fill="#40c4c4"/>
<rect x="1288" y="307" width="1" height="4" fill="#e8404a"/>
<rect x="1286.5" y="311.5" width="4" height="23" fill="none" stroke="#e8404a" stroke-width="1"/>
<rect x="1296" y="306" width="1" height="14" fill="#e8404a"/>
<rect x="1296" y="323" width="1" height="6" fill="#e8404a"/>
<rect x="1294.5" y="320.5" width="4" height="2" fill="none" stroke="#e8404a" stroke-width="1"/>
<rect x="1304" y="311" width="1" height="1" fill="#e8404a"/>
<rect x="1304" y="326" width="1" height="15" fill="#e8404a"/>
<rect x="1302.5" y="312.5" width="4" height="13" fill="none" stroke="#e8404a" stroke-width="1"/>
<rect x="1313" y="307" width="1" height="4" fill="#40c4c4"/>
<rect x="1313" y="332" width="1" height="4" fill="#40c4c4"/>
<rect x="1311" y="311" width="5" height="21" fill="#40c4c4"/>
<rect x="1321" y="281" width="1" height="11" fill="#e8404a"/>
<rect x="1321" y="336" width="1" height="4" fill="#e8404a"/>
<rect x="1319.5" y="292.5" width="4" height="43" fill="none" stroke="#e8404a" stroke-width="1"/>
</g>
<g shape-rendering="crispEdges" stroke="#2c2c2c" stroke-width="1">
<line x1="133.5" y1="577" x2="133.5" y2="582"/>
<line x1="293.5" y1="577" x2="293.5" y2="582"/>
<line x1="462.5" y1="577" x2="462.5" y2="582"/>
<line x1="656.5" y1="577" x2="656.5" y2="582"/>
<line x1="824.5" y1="577" x2="824.5" y2="582"/>
<line x1="934.5" y1="577" x2="934.5" y2="582"/>
<line x1="1077.5" y1="577" x2="1077.5" y2="582"/>
<line x1="1245.5" y1="577" x2="1245.5" y2="582"/>
</g>
<g class="t" font-size="12.5" letter-spacing="0.6" fill="#a8a8a8">
<text x="136" y="597">05</text>
<text x="296" y="597">06</text>
<text x="465" y="597">07</text>
<text x="659" y="597">08</text>
<text x="827" y="597">09</text>
<text x="937" y="597">10</text>
<text x="1080" y="597">11</text>
<text x="1248" y="597">12</text>
</g>
<g class="t" font-size="12" fill="#b4b4b4" text-anchor="end">
<text x="1398" y="34.6">216.77</text>
<text x="1398" y="62.1">207.73</text>
<text x="1398" y="98.1">198.68</text>
<text x="1398" y="134.1">189.64</text>
<text x="1398" y="170.1">180.59</text>
<text x="1398" y="206.1">171.55</text>
<text x="1398" y="242.1">162.50</text>
<text x="1398" y="278.1">153.46</text>
<text x="1398" y="314.1">144.41</text>
<text x="1398" y="350.1">135.37</text>
<text x="1398" y="386.1">126.32</text>
<text x="1398" y="422.1">117.28</text>
<text x="1398" y="458.1">108.23</text>
<text x="1398" y="494.1">99.19</text>
<text x="1398" y="530.1">90.14</text>
<text x="1398" y="566.1">81.10</text>
</g>
<text class="t" x="13" y="16" font-size="12" letter-spacing="0.7" word-spacing="-1.5" fill="#ececec">芯原股份 (日线,前复权)</text>
<text class="t" x="1320.5" y="15" font-size="12.5" letter-spacing="0.25" fill="#a0a0a0" text-anchor="end" text-decoration="underline">2025/4/10-2025/12/12(157根)</text>
<g stroke="#ffffff" stroke-width="1" fill="none">
<line x1="937" y1="23.5" x2="951" y2="28.5" stroke-dasharray="3 1.5"/>
<polyline points="944,23 936.5,23.5 941.5,28"/>
<line x1="254" y1="562" x2="267" y2="557.5" stroke-dasharray="3 1.5"/>
<polyline points="257.5,558.5 253.5,562 258.5,562.5"/>
</g>
<text class="t" x="951.5" y="38" font-size="12" fill="#ffffff">216.77</text>
<text class="t" x="268.5" y="558" font-size="12" fill="#ffffff">81.10</text>
<path d="M454.0 564.5 L451.0 567.5 L457.0 567.5 Z" fill="#e8203a"/>
<text class="t" x="454.0" y="575.8" font-size="11" font-weight="bold" fill="#e8203a" text-anchor="middle">S</text>
<path d="M1052.5 564.5 L1049.5 567.5 L1055.5 567.5 Z" fill="#e8203a"/>
<text class="t" x="1052.5" y="575.8" font-size="11" font-weight="bold" fill="#e8203a" text-anchor="middle">S</text>
<line x1="839.2" y1="389" x2="830.8" y2="262" stroke="#e03c40" stroke-width="3.4"/>
<path d="M827.7 242.5 L818.4 266.6 L841.3 264.2 Z" fill="#e03c40"/>
<g fill="#c8c8c8" style="font-family:'Liberation Sans','Noto Sans CJK SC',sans-serif">
<text x="1114" y="571" font-size="42">妙想</text>
<text transform="translate(1196.5 569) scale(0.955 1)" x="0" y="0" font-size="45">Choice</text>
</g>
</svg>
</body></html>
